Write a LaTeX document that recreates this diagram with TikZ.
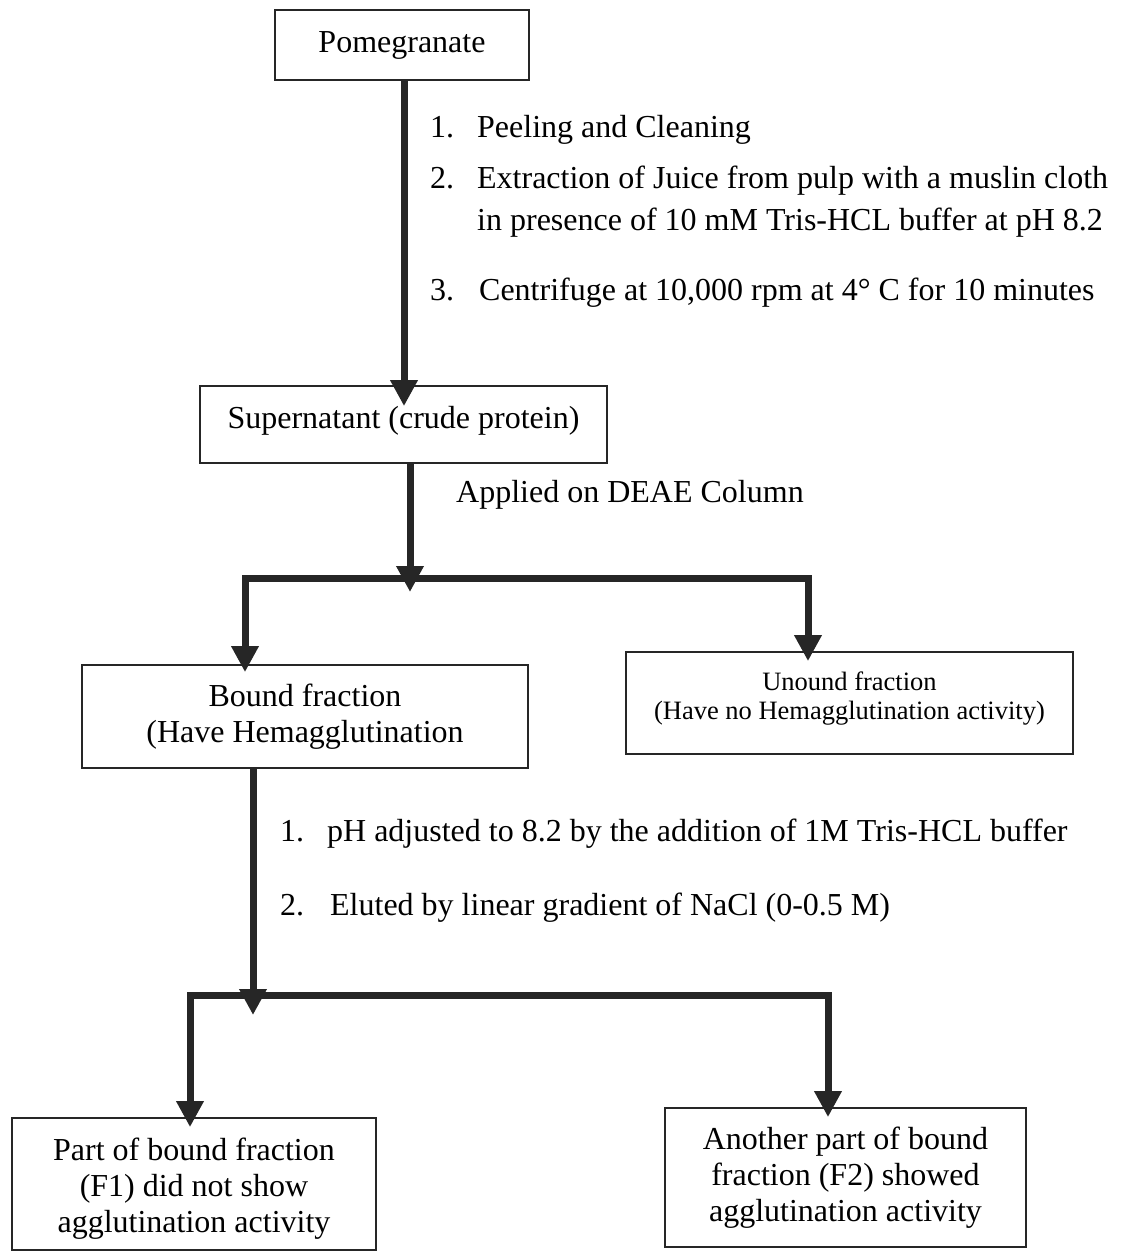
\documentclass[tikz,border=0pt]{standalone}
\usepackage{fontspec}
\setmainfont{Liberation Serif}
\usetikzlibrary{arrows.meta}
\begin{document}
\begin{tikzpicture}[x=1pt,y=-1pt,
  box/.style={draw=black!85, line width=1.8pt, align=center, inner sep=0pt,
    font=\fontsize{32}{36}\selectfont},
  smallbox/.style={box, font=\fontsize{26.5}{29}\selectfont},
  boxtext/.style={align=center, inner sep=0pt, font=\fontsize{32}{36}\selectfont},
  lbl/.style={anchor=base west, inner sep=0pt, font=\fontsize{32}{40}\selectfont},
  conn/.style={draw=black!85, line width=7pt, line join=miter},
  arr/.style={conn, -{Triangle[width=26pt,length=26pt]}}
]
\useasboundingbox[fill=white] (0,0) rectangle (1127,1254);

% boxes
\node[box, minimum width=254pt, minimum height=70pt] (pom) at (402,45) {Pomegranate};
\node[box, minimum width=407pt, minimum height=77pt] (sup) at (403.5,424.5) {Supernatant (crude protein)\\[-22pt]\mbox{}};
\node[box, minimum width=446pt, minimum height=103pt] (bound) at (305,716.5) {Bound fraction\\(Have Hemagglutination};
\node[smallbox, minimum width=447pt, minimum height=102pt] (unbound) at (849.5,703) {Unound fraction\\(Have no Hemagglutination activity)\\[-15pt]\mbox{}};
\node[box, minimum width=364pt, minimum height=132pt] (f1) at (194,1184) {};
\node[boxtext] (f1t) at (194,1189) {Part of bound fraction\\(F1) did not show\\agglutination activity};
\node[box, minimum width=361pt, minimum height=139pt] (f2) at (845.5,1177.5) {Another part of bound\\fraction (F2) showed\\agglutination activity};

% step labels
\node[lbl] (s1) at (430,137) {\makebox[47pt][l]{1.}Peeling and Cleaning};
\node[lbl] (s2) at (430,188) {\makebox[47pt][l]{2.}Extraction of Juice from pulp with a muslin cloth};
\node[lbl] (s2b) at (477,230) {in presence of 10 mM Tris-HCL buffer at pH 8.2};
\node[lbl] (s3) at (430,300) {\makebox[49pt][l]{3.}Centrifuge at 10,000 rpm at 4° C for 10 minutes};
\node[lbl] (s4) at (456,502) {Applied on DEAE Column};
\node[lbl] (s5) at (280,841) {\makebox[47pt][l]{1.}pH adjusted to 8.2 by the addition of 1M Tris-HCL buffer};
\node[lbl] (s6) at (280,915) {\makebox[50pt][l]{2.}Eluted by linear gradient of NaCl (0-0.5 M)};

% connectors
\coordinate (a1) at (404,80);
\draw[arr, shorten >=-21pt] (pom.south -| a1) -- (a1 |- sup.north);

\coordinate (j1) at (410,578);
\coordinate (bl1) at (245,578);
\coordinate (br1) at (808,578);
\draw[arr, shorten >=-14pt] (sup.south -| j1) -- (j1);
\draw[arr, shorten >=-8pt] (j1) -| (bl1 |- bound.north);
\draw[arr, shorten >=-10pt] (j1) -| (br1 |- unbound.north);

\coordinate (j2) at (253,995);
\coordinate (bl2) at (190,995);
\coordinate (br2) at (828,995);
\draw[arr, shorten >=-20pt] (bound.south -| j2) -- (j2);
\draw[arr, shorten >=-10pt] (j2) -| (bl2 |- f1.north);
\draw[arr, shorten >=-10pt] (j2) -| (br2 |- f2.north);
\end{tikzpicture}
\end{document}
